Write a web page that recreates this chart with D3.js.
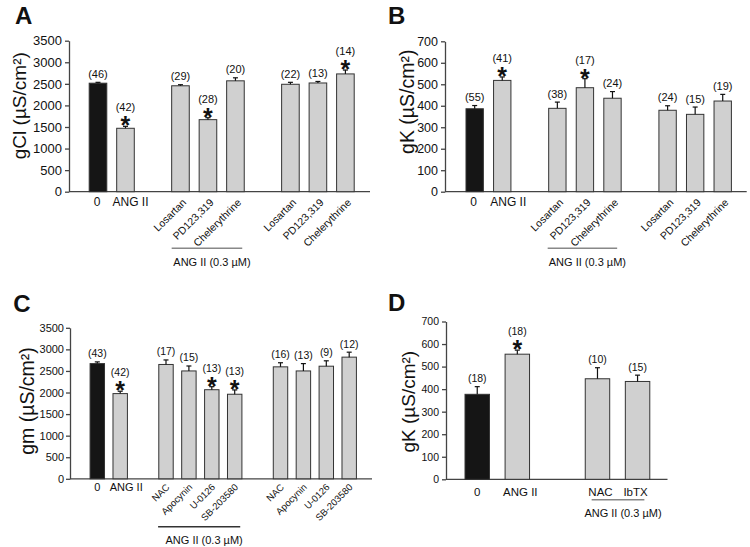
<!DOCTYPE html>
<head>
	<script src="https://d3js.org/d3.v7.min.js"></script>
	<style>
		body { margin: 0; background: #fff; }
	</style>
</head>
<body>
<script>
	// values (mean, SEM, n)
	var labelsA = ["0", "ANG II", "Losartan", "PD123,319", "Chelerythrine", "Losartan", "PD123,319", "Chelerythrine"];
	var slotsA = [0, 1, 3, 4, 5, 7, 8, 9];
	var meanA = [2515, 1470, 2455, 1670, 2570, 2490, 2520, 2730];
	var semA = [20, 45, 25, 45, 70, 45, 35, 90];
	var nA = [46, 42, 29, 28, 20, 22, 13, 14];
	var starA = [0, 1, 0, 1, 0, 0, 0, 1];

	var labelsB = ["0", "ANG II", "Losartan", "PD123,319", "Chelerythrine", "Losartan", "PD123,319", "Chelerythrine"];
	var slotsB = [0, 1, 3, 4, 5, 7, 8, 9];
	var meanB = [386, 518, 388, 484, 435, 379, 360, 422];
	var semB = [15, 16, 29, 42, 31, 21, 34, 31];
	var nB = [55, 41, 38, 17, 24, 24, 15, 19];
	var starB = [0, 1, 0, 1, 0, 0, 0, 0];

	var labelsC = ["0", "ANG II", "NAC", "Apocynin", "U-0126", "SB-203580", "NAC", "Apocynin", "U-0126", "SB-203580"];
	var slotsC = [0, 1, 3, 4, 5, 6, 8, 9, 10, 11];
	var meanC = [2670, 1975, 2650, 2500, 2065, 1960, 2595, 2500, 2610, 2820];
	var semC = [40, 55, 105, 115, 70, 100, 95, 170, 125, 115];
	var nC = [43, 42, 17, 15, 13, 13, 16, 13, 9, 12];
	var starC = [0, 1, 0, 0, 1, 1, 0, 0, 0, 0];

	var labelsD = ["0", "ANG II", "NAC", "IbTX"];
	var slotsD = [0, 1, 3, 4];
	var meanD = [377, 555, 446, 434];
	var semD = [34, 18, 49, 28];
	var nD = [18, 18, 10, 15];
	var starD = [0, 1, 0, 0];

	var groupText = "ANG II (0.3 \u00b5M)";
	var font = "Liberation Sans, Arial, sans-serif";

	var svg = d3.select("body").append("svg")
		.attr("width", 750)
		.attr("height", 547)
		.attr("font-family", font)
		.attr("fill", "#111");

	svg.append("rect").attr("width", 750).attr("height", 547).attr("fill", "#fff");

	function panel(p) {
		var g = svg.append("g");
		var rows = p.labels.map(function(l, i) {
			return { label: l, slot: String(p.slots[i]), mean: p.mean[i], sem: p.sem[i], n: p.n[i], star: p.star[i], i: i };
		});

		var x = d3.scaleBand()
			.domain(d3.range(p.nSlots).map(String))
			.range(p.range)
			.paddingInner(p.pad)
			.paddingOuter(p.pad / 2);
		var y = d3.scaleLinear()
			.domain([0, p.yMax])
			.range([p.bot, p.top]);
		var bw = x.bandwidth();
		var cx = function(d) { return x(d.slot) + bw / 2; };

		// panel letter
		g.append("text")
			.attr("x", p.letter[1]).attr("y", p.letter[2])
			.attr("font-size", 24).attr("font-weight", "bold")
			.text(p.letter[0]);

		// y axis
		var yAxis = d3.axisLeft(y)
			.tickValues(d3.range(0, p.yMax + 1, p.yStep))
			.tickFormat(d3.format("d"))
			.tickSize(4).tickSizeOuter(0).tickPadding(p.tickPad);
		var ya = g.append("g")
			.attr("transform", "translate(" + p.ax + ",0)")
			.call(yAxis)
			.attr("font-family", font)
			.attr("font-size", p.tickFont);
		ya.selectAll("path, line").attr("stroke", "#444").attr("stroke-width", 1.3);
		ya.selectAll("text").attr("fill", "#111");

		g.append("text")
			.attr("transform", "translate(" + p.ylab[1] + "," + p.ylab[2] + ") rotate(-90)")
			.attr("text-anchor", "middle")
			.attr("dy", "0.35em")
			.attr("font-size", p.ylabFont)
			.text(p.ylab[0]);

		// x axis line
		g.append("line")
			.attr("x1", p.ax).attr("x2", p.xEnd)
			.attr("y1", p.bot).attr("y2", p.bot)
			.attr("stroke", "#444").attr("stroke-width", 1.3);

		// bars
		g.selectAll("rect.bar")
			.data(rows)
			.enter()
			.append("rect")
			.attr("class", "bar")
			.attr("x", function(d) { return x(d.slot); })
			.attr("y", function(d) { return y(d.mean); })
			.attr("width", bw)
			.attr("height", function(d) { return p.bot - y(d.mean); })
			.attr("fill", function(d) { return d.i == 0 ? "#151515" : "#d0d0d0"; })
			.attr("stroke", "#333")
			.attr("stroke-width", 1);

		// error bars (upper only)
		g.selectAll("line.err")
			.data(rows)
			.enter()
			.append("line")
			.attr("class", "err")
			.attr("x1", cx).attr("x2", cx)
			.attr("y1", function(d) { return y(d.mean); })
			.attr("y2", function(d) { return y(d.mean + d.sem); })
			.attr("stroke", "#111").attr("stroke-width", 1.2);
		g.selectAll("line.cap")
			.data(rows)
			.enter()
			.append("line")
			.attr("class", "cap")
			.attr("x1", function(d) { return cx(d) - 2.5; })
			.attr("x2", function(d) { return cx(d) + 2.5; })
			.attr("y1", function(d) { return y(d.mean + d.sem); })
			.attr("y2", function(d) { return y(d.mean + d.sem); })
			.attr("stroke", "#111").attr("stroke-width", 1.2);

		// n counts and stars
		g.selectAll("text.n")
			.data(rows)
			.enter()
			.append("text")
			.attr("class", "n")
			.attr("x", cx)
			.attr("y", function(d) { return y(d.mean + d.sem) - (d.star ? 15 : 4.5); })
			.attr("text-anchor", "middle")
			.attr("font-size", p.nFont)
			.text(function(d) { return "(" + d.n + ")"; });
		g.selectAll("text.star")
			.data(rows.filter(function(d) { return d.star; }))
			.enter()
			.append("text")
			.attr("class", "star")
			.attr("x", cx)
			.attr("y", function(d) { return y(d.mean + d.sem) + 8; })
			.attr("text-anchor", "middle")
			.attr("font-size", 25).attr("font-weight", "bold")
			.text("*");

		// flat category labels
		var flat = rows.filter(function(d) { return d.i < 2 || !p.rotate; });
		g.selectAll("text.cat")
			.data(flat)
			.enter()
			.append("text")
			.attr("class", "cat")
			.attr("x", function(d) { return cx(d) + (p.flatDx[d.i] || 0); })
			.attr("y", p.flatY)
			.attr("text-anchor", "middle")
			.attr("font-size", p.catFont)
			.text(function(d) { return d.label; });

		// rotated category labels
		var rot = rows.filter(function(d) { return d.i >= 2 && p.rotate; });
		g.selectAll("text.rot")
			.data(rot)
			.enter()
			.append("text")
			.attr("class", "rot")
			.attr("x", function(d) { return cx(d) + p.rotDx; })
			.attr("y", p.bot + p.rotDy)
			.attr("transform", function(d) { return "rotate(-45 " + (cx(d) + p.rotDx) + " " + (p.bot + p.rotDy) + ")"; })
			.attr("text-anchor", "end")
			.attr("font-size", p.rotFont)
			.text(function(d) { return d.label; });

		// ANG II group bracket
		var first = rows[p.grp[0]], last = rows[p.grp[1]];
		var gx0 = x(first.slot) + p.grpIn[0];
		var gx1 = x(last.slot) + bw - p.grpIn[1];
		g.append("line")
			.attr("x1", gx0).attr("x2", gx1)
			.attr("y1", p.grpY).attr("y2", p.grpY)
			.attr("stroke", p.grpColor).attr("stroke-width", 1.5);
		g.append("text")
			.attr("x", (gx0 + gx1) / 2 + 5)
			.attr("y", p.grpTextY)
			.attr("text-anchor", "middle")
			.attr("font-size", p.grpFont)
			.text(groupText);
	}

	panel({
		labels: labelsA, slots: slotsA, mean: meanA, sem: semA, n: nA, star: starA,
		nSlots: 10, range: [84.25, 359.15], pad: 0.36,
		ax: 69, top: 40.7, bot: 191.7, xEnd: 370, yMax: 3500, yStep: 500,
		letter: ["A", 15, 24], ylab: ["gCl (\u00b5S/cm\u00b2)", 19, 105.7], ylabFont: 19,
		tickFont: 13, tickPad: 3, nFont: 11, catFont: 12, rotFont: 10.5, rotate: true,
		flatDx: [-1, 5], flatY: 205.5, rotDx: 6.5, rotDy: 11.5,
		grp: [2, 4], grpIn: [0, 2], grpY: 248.3, grpTextY: 265.5, grpFont: 11, grpColor: "#888"
	});

	panel({
		labels: labelsB, slots: slotsB, mean: meanB, sem: semB, n: nB, star: starB,
		nSlots: 10, range: [460.9, 736.5], pad: 0.37,
		ax: 445, top: 41.3, bot: 191.7, xEnd: 746.7, yMax: 700, yStep: 100,
		letter: ["B", 388, 24], ylab: ["gK (\u00b5S/cm\u00b2)", 407.5, 101.7], ylabFont: 19.5,
		tickFont: 12.5, tickPad: 3, nFont: 11, catFont: 12, rotFont: 10.5, rotate: true,
		flatDx: [-1, 6], flatY: 205.5, rotDx: 6.5, rotDy: 11.5,
		grp: [2, 4], grpIn: [-1, 4], grpY: 248.3, grpTextY: 265.5, grpFont: 11, grpColor: "#888"
	});

	panel({
		labels: labelsC, slots: slotsC, mean: meanC, sem: semC, n: nC, star: starC,
		nSlots: 12, range: [85.85, 360.65], pad: 0.37,
		ax: 70, top: 327.8, bot: 478.8, xEnd: 372, yMax: 3500, yStep: 500,
		letter: ["C", 13.3, 311.7], ylab: ["gm (\u00b5S/cm\u00b2)", 27, 401], ylabFont: 19.5,
		tickFont: 11, tickPad: 2, nFont: 10.5, catFont: 11, rotFont: 9.5, rotate: true,
		flatDx: [0, 6], flatY: 490.5, rotDx: 4, rotDy: 9,
		grp: [2, 5], grpIn: [-0.7, 1.7], grpY: 526.7, grpTextY: 544, grpFont: 11, grpColor: "#333"
	});

	panel({
		labels: labelsD, slots: slotsD, mean: meanD, sem: semD, n: nD, star: starD,
		nSlots: 5, range: [457.2, 657.6], pad: 0.39,
		ax: 446, top: 321.5, bot: 479.3, xEnd: 667.5, yMax: 700, yStep: 100,
		letter: ["D", 388, 310.7], ylab: ["gK (\u00b5S/cm\u00b2)", 408, 401.7], ylabFont: 19,
		tickFont: 10.5, tickPad: 3, nFont: 10.5, catFont: 11.5, rotFont: 11.5, rotate: false,
		flatDx: [0, 3, 3, -2], flatY: 495.7, rotDx: 0, rotDy: 0,
		grp: [2, 3], grpIn: [6.4, 5.4], grpY: 499.7, grpTextY: 517, grpFont: 11, grpColor: "#888"
	});
</script>
</body>
</html>
